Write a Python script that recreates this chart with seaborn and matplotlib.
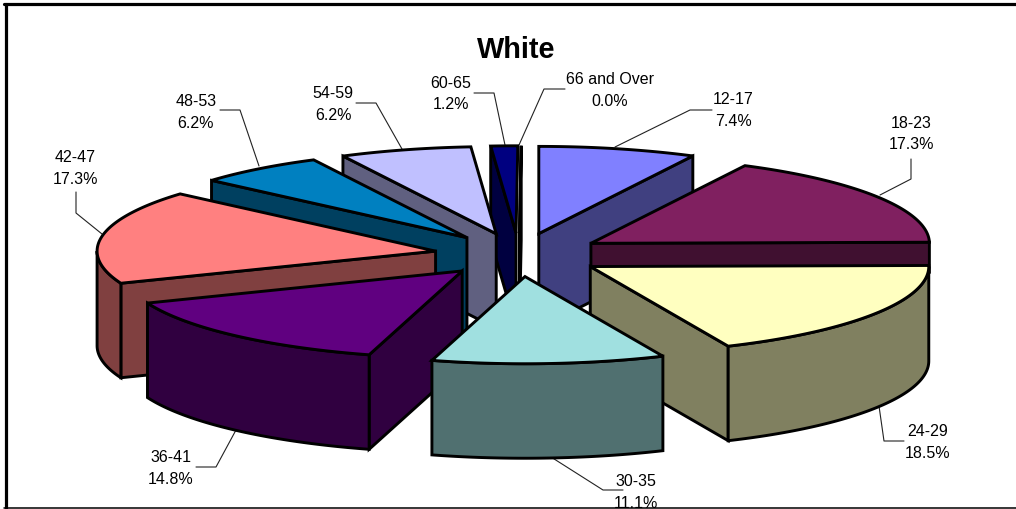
import numpy as np
import seaborn as sns
import matplotlib.pyplot as plt

# respondent counts per age group (81 in total), clockwise from 12 o'clock
age_groups = ['12-17', '18-23', '24-29', '30-35', '36-41', '42-47', '48-53', '54-59', '60-65', '66 and Over']
counts = [6, 14, 15, 9, 12, 14, 5, 5, 1, 0]
top_colors = ['#8080FF', '#802060', '#FFFFC0', '#A0E0E0', '#600080', '#FF8080', '#0080C0', '#C0C0FF', '#000080', '#FF00FF']
side_colors = ['#404080', '#401030', '#808060', '#507070', '#300040', '#804040', '#004060', '#606080', '#000040', '#800080']

# label centre, then leader line from pie to label
label_pos = [(733, 100), (911, 123), (928, 432), (636, 482), (171, 458), (75, 158), (196, 102), (333, 94), (451, 83), (610, 80)]
leaders = [
    [(615, 148), (690, 111), (712, 111)],
    [(880, 196), (911, 180), (911, 160)],
    [(879, 407), (884, 442), (904, 442)],
    [(551, 458), (603, 491), (623, 491)],
    [(236, 431), (216, 468), (196, 468)],
    [(102, 235), (76, 214), (76, 193)],
    [(259, 167), (240, 111), (220, 111)],
    [(402, 150), (376, 104), (356, 104)],
    [(505, 146), (494, 94), (474, 94)],
    [(519, 146), (544, 90), (565, 90)],
]

# pie geometry in pixels
CX, CY = 519, 255.8
RX, RY = 338.5, 87.2
EXPLODE = 0.25
DEPTH = 94.5
EDGE_W = 2.1
# small per-edge correction (degrees), the original projection is not a perfect ellipse
EDGE_NUDGE = [0, 0.4, 0.4, 0.4, 0.4, -0.5, -0.1, -0.26, 0.15, 0.3, 0.3]

sns.set_theme(style='white')
plt.rcParams['font.family'] = ['Liberation Sans', 'DejaVu Sans']

fig = plt.figure(figsize=(10.16, 5.10), dpi=100)
ax = fig.add_axes([0, 0, 1, 1])
ax.set_xlim(0, 1016)
ax.set_ylim(510, 0)
ax.axis('off')


def rim(ox, oy, angles):
    return ox + RX * np.sin(angles), oy - RY * np.cos(angles)


def face(xs, ys, color, z):
    ax.fill(xs, ys, facecolor=color, edgecolor='black', linewidth=EDGE_W, joinstyle='miter', zorder=z)


def draw_slice(a1, a2, top, side, z):
    mid = (a1 + a2) / 2
    ox = CX + EXPLODE * RX * np.sin(mid)
    oy = CY - EXPLODE * RY * np.cos(mid)

    # cut faces, only those that look towards the viewer
    for a, visible in ((a1, np.sin(a1) < 0 or a1 == a2), (a2, 1e-9 < np.sin(a2) and a2 < np.pi)):
        if visible:
            x, y = rim(ox, oy, a)
            # a cut ending near 3 o'clock sits behind the next slice, keep it short so it can't poke out
            d = 30 if abs(a - np.pi / 2) < 0.05 else DEPTH
            face([ox, x, x, ox], [oy, y, y + d, oy + d], side, z)

    # outer wall on the front half
    lo, hi = max(a1, np.pi / 2), min(a2, 3 * np.pi / 2)
    if hi > lo:
        x, y = rim(ox, oy, np.linspace(lo, hi, 80))
        face(np.r_[x, x[::-1]], np.r_[y, y[::-1] + DEPTH], side, z)

    # top
    x, y = rim(ox, oy, np.linspace(a1, a2, 80))
    face(np.r_[ox, x], np.r_[oy, y], top, z)


total = sum(counts)
edges = 2 * np.pi * np.r_[0, np.cumsum(counts)] / total + np.radians(EDGE_NUDGE)
mids = (edges[:-1] + edges[1:]) / 2

# back slices first
order = np.argsort(-np.cos(mids))
for z, i in enumerate(order):
    draw_slice(edges[i], edges[i + 1], top_colors[i], side_colors[i], z + 2)

for i, name in enumerate(age_groups):
    lx, ly = label_pos[i]
    ax.text(lx, ly, name, ha='center', va='center', fontsize=11.5, color='black', zorder=30)
    ax.text(lx, ly + 21.5, f'{100 * counts[i] / total:.1f}%', ha='center', va='center',
            fontsize=11.5, color='black', zorder=30)
    ax.plot(*zip(*leaders[i]), color='#222222', linewidth=0.8, zorder=1)

ax.text(516, 49.5, 'White', ha='center', va='center', fontsize=20.8, fontweight='bold', color='black', zorder=30)

# chart frame, open on the right
ax.plot([5.5, 5.5], [4.5, 510], color='black', linewidth=2.3, zorder=40)
ax.plot([4, 1016], [4.5, 4.5], color='black', linewidth=2.3, zorder=40)
ax.plot([4, 1016], [509.3, 509.3], color='black', linewidth=1.1, zorder=40)

fig.savefig('out.png', dpi=100, facecolor='white')
